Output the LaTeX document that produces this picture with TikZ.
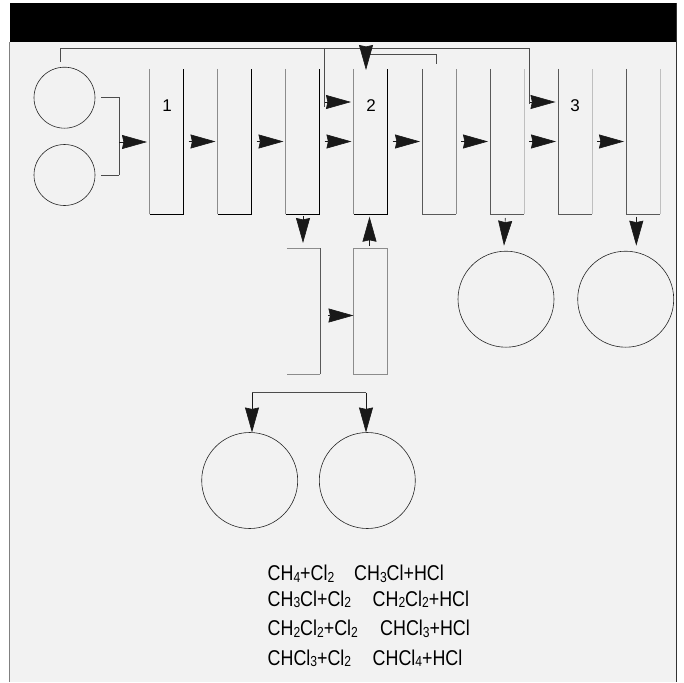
\documentclass[tikz,border=0pt]{standalone}
\usepackage{fontspec}
\setmainfont[FakeStretch=0.835]{Liberation Sans}
\newfontfamily\numfont{Liberation Sans}
\usetikzlibrary{arrows.meta}
\newcommand{\sbs}[1]{\raisebox{-0.15ex}{\fontsize{14.5}{14.5}\selectfont #1}}

\begin{document}
\begin{tikzpicture}[x=1pt,y=-1pt,
    column/.style={rectangle,inner sep=0pt,outer sep=0pt,minimum width=34pt,minimum height=145pt},
    tank/.style={circle,draw,line width=0.6pt,color=black!85,inner sep=0pt,outer sep=0pt},
    num/.style={inner sep=0pt,font=\numfont\fontsize{17}{17}\selectfont},
    chem/.style={inner sep=0pt,anchor=base west,font=\fontsize{21.4}{21.4}\selectfont},
    wall/.style={line width=0.6pt},
    wallgray/.style={line width=0.6pt,color=black!45},
    walldark/.style={line width=0.6pt,color=black!65},
    walllight/.style={line width=0.6pt,color=black!25},
    pipe/.style={line width=0.8pt,color=black!70},
    flow/.style={line width=0.6pt,color=black!90,-{Stealth[length=25pt,width=14pt,inset=1.5pt]}},
    stage/.style={flow,shorten <=5pt,shorten >=2pt}]
  \useasboundingbox (0,0) rectangle (684,682);
  \fill[color=white] (0,0) rectangle (684,682);
  \fill[color=black!5] (10,3) rectangle (676,682);
  \fill[color=black] (10,3) rectangle (676,42);
  \draw[line width=0.6pt,color=black!50] (9.5,42) -- (9.5,682);
  \draw[line width=0.8pt,color=black!80] (676.3,3) -- (676.3,682);

  \node[tank,minimum size=61pt] (tankA) at (64.5,97.7) {};
  \node[tank,minimum size=61pt] (tankB) at (64.5,175) {};
  \node[tank,minimum size=96pt] (tankC) at (506,299.2) {};
  \node[tank,minimum size=96pt] (tankD) at (625.7,299.2) {};
  \node[tank,minimum size=96pt] (tankE) at (249.7,480.5) {};
  \node[tank,minimum size=96pt] (tankF) at (367.3,480.5) {};

  \node[column] (colA) at (166.5,141.5) {};
  \node[column] (colB) at (234.5,141.5) {};
  \node[column] (colC) at (302.5,141.5) {};
  \node[column] (colD) at (370.5,141.5) {};
  \node[column] (colE) at (439,141.5) {};
  \node[column] (colF) at (507,141.5) {};
  \node[column] (colG) at (575,141.5) {};
  \node[column] (colH) at (643,141.5) {};
  \node[rectangle,inner sep=0pt,outer sep=0pt,minimum width=33.5pt,minimum height=126pt] (colJ) at (303.5,311) {};
  \node[rectangle,draw,wallgray,inner sep=0pt,outer sep=0pt,minimum width=34pt,minimum height=126pt] (colK) at (370.5,311) {};

  \draw[wallgray] (colA.north west) -- (colA.south west);
  \draw[wall] (colA.south west) -- (colA.south east) -- (colA.north east);
  \draw[wallgray] (colB.north west) -- (colB.south west);
  \draw[wall] (colB.south west) -- (colB.south east) -- (colB.north east);
  \draw[wallgray] (colC.north west) -- (colC.south west);
  \draw[wall] (colC.south west) -- (colC.south east) -- (colC.north east);
  \draw[wallgray] (colD.north west) -- (colD.south west);
  \draw[wall] (colD.south west) -- (colD.south east) -- (colD.north east);
  \draw[walldark] (colE.north west) -- (colE.south west) -- (colE.south east);
  \draw[wallgray] (colE.south east) -- (colE.north east);
  \draw[walldark] (colF.north west) -- (colF.south west) -- (colF.south east);
  \draw[walllight] (colF.south east) -- (colF.north east);
  \draw[walldark] (colG.north west) -- (colG.south west) -- (colG.south east);
  \draw[walllight] (colG.south east) -- (colG.north east);
  \draw[walldark] (colH.north west) -- (colH.south west) -- (colH.south east);
  \draw[walllight] (colH.south east) -- (colH.north east);
  \draw[wallgray] (colJ.north west) -- (colJ.north east);
  \draw[walldark] (colJ.north east) -- (colJ.south east);
  \draw[wallgray] (colJ.south east) -- (colJ.south west);

  \node[num] (numA) at (167,106) {1};
  \node[num] (numB) at (371,106) {2};
  \node[num] (numC) at (575,106) {3};

  % feed from the two small tanks
  \coordinate (joinA) at (119,97.7);
  \coordinate (joinB) at (119,175);
  \coordinate (joinC) at (119,142);
  \draw[pipe,shorten <=6pt] (tankA.east) -- (joinA) -- (joinB);
  \draw[pipe,shorten >=6pt] (joinB) -- (tankB.east);
  \draw[flow,shorten >=2.5pt] (joinC) -- (joinC -| colA.west);

  % recycle lines along the top
  \coordinate (topA) at (60,62);
  \coordinate (topB) at (60,48.5);
  \coordinate (topC) at (324.3,48.5);
  \coordinate (topD) at (324.3,107);
  \coordinate (topE) at (529.3,48.5);
  \coordinate (topF) at (529.3,104);
  \coordinate (topG) at (436.3,64);
  \coordinate (topH) at (436.3,54);
  \coordinate (topJ) at (366,54);
  \coordinate (topK) at (366,70);
  \coordinate (feedD) at (325,102);
  \coordinate (feedG) at (530,102);
  \draw[pipe] (topA) -- (topB) -- (topE) -- (topF);
  \draw[pipe] (topC) -- (topD);
  \draw[pipe] (topG) -- (topH) -- (topJ);
  \draw[flow] (topJ) -- (topK);
  \draw[flow,shorten >=2.5pt] (feedD) -- (feedD -| colD.west);
  \draw[flow,shorten >=2.5pt] (feedG) -- (feedG -| colG.west);

  \draw[stage] (colA.east) -- (colB.west);
  \draw[stage] (colB.east) -- (colC.west);
  \draw[stage] (colC.east) -- (colD.west);
  \draw[stage] (colD.east) -- (colE.west);
  \draw[stage] (colE.east) -- (colF.west);
  \draw[stage] (colF.east) -- (colG.west);
  \draw[stage] (colG.east) -- (colH.west);

  % outlets below the columns
  \coordinate (outC) at (303,216);
  \coordinate (tipC) at (303,243);
  \coordinate (outK) at (369.5,246);
  \coordinate (tipK) at (369.5,216.7);
  \coordinate (outJ) at (321,315.5);
  \coordinate (tipJ) at (353.5,315.5);
  \coordinate (outF) at (505.3,218);
  \coordinate (tipF) at (504,245.7);
  \coordinate (outH) at (636.3,216.7);
  \coordinate (tipH) at (636.3,245.7);
  \draw[flow] (outC) -- (tipC);
  \draw[flow] (outK) -- (tipK);
  \draw[flow] (outJ) ++(7,0) -- (tipJ);
  \draw[flow] (outF) -- (tipF);
  \draw[flow] (outH) -- (tipH);

  % split down to the two lower tanks
  \coordinate (splitA) at (252,392.7);
  \coordinate (splitB) at (366,392.7);
  \draw[pipe] (splitA) -- (splitB);
  \draw[flow] (splitA) -- (tankE.north -| splitA);
  \draw[flow] (splitB) -- (tankF.north -| splitB);

  \node[chem] (eqA) at (267.5,580.5) {CH\sbs{4}+Cl\sbs{2}};
  \node[chem] (eqB) at (354,580.5) {CH\sbs{3}Cl+HCl};
  \node[chem] (eqC) at (267.5,606) {CH\sbs{3}Cl+Cl\sbs{2}};
  \node[chem] (eqD) at (372.5,606) {CH\sbs{2}Cl\sbs{2}+HCl};
  \node[chem] (eqE) at (267.5,635.3) {CH\sbs{2}Cl\sbs{2}+Cl\sbs{2}};
  \node[chem] (eqF) at (380,635.3) {CHCl\sbs{3}+HCl};
  \node[chem] (eqG) at (267.5,665) {CHCl\sbs{3}+Cl\sbs{2}};
  \node[chem] (eqH) at (372.5,665) {CHCl\sbs{4}+HCl};
\end{tikzpicture}
\end{document}
